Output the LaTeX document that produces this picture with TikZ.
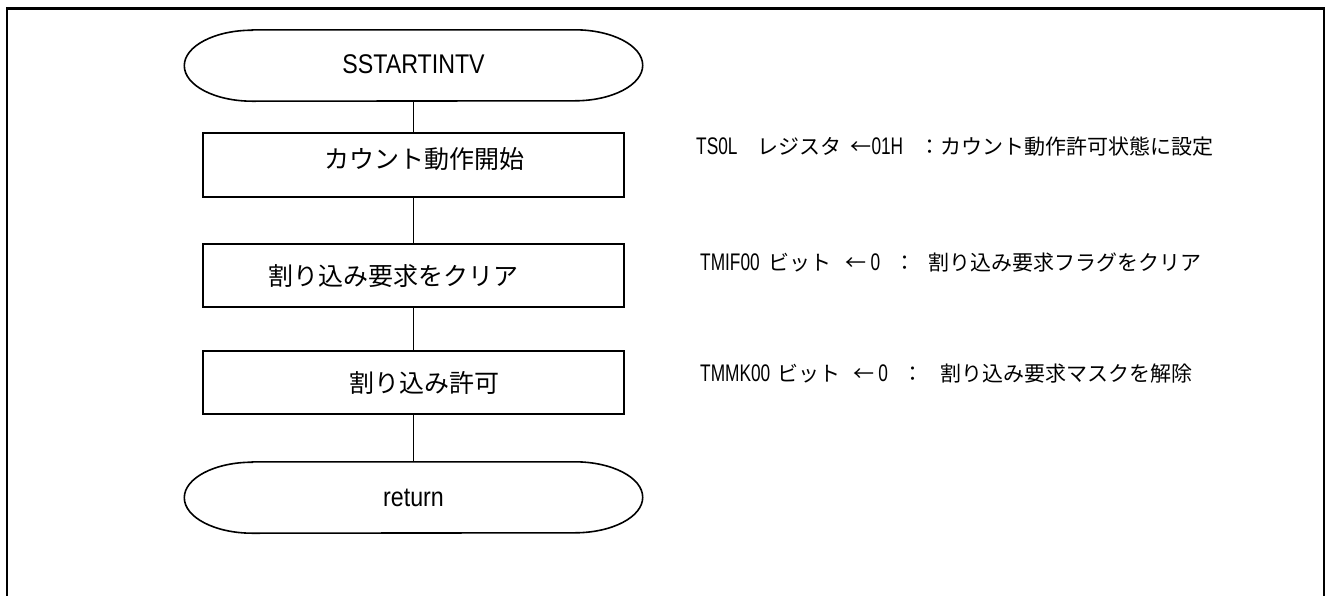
\documentclass[tikz,border=0pt]{standalone}
\usepackage{fontspec}
\setmainfont{Liberation Sans}
\newfontfamily\jp{Noto Sans CJK JP}
\newfontfamily\notefont[FakeStretch=0.72]{Liberation Sans}
\newfontfamily\termfont[FakeStretch=0.86]{Liberation Sans}
\newcommand{\jt}[1]{{\jp\fontsize{21}{23}\selectfont #1}}
\newcommand{\termpath}[1]{\draw[line width=1.6pt] ([xshift=68pt]#1.north west) -- ([xshift=-68pt]#1.north east) arc[start angle=90,end angle=-90,x radius=68pt,y radius=35.5pt] -- ([xshift=68pt]#1.south west) arc[start angle=270,end angle=90,x radius=68pt,y radius=35.5pt] -- cycle;}
\tikzset{
 proc/.style={draw, line width=1.6pt, minimum width=421pt, minimum height=63.5pt, inner sep=0pt, text height=19pt, text depth=0pt, font=\jp\fontsize{25}{27}\selectfont},
 term/.style={minimum width=458pt, minimum height=71pt, inner sep=0pt, font=\termfont\fontsize{27}{29}\selectfont},
 conn/.style={line width=1.5pt},
 note/.style={anchor=base west, inner sep=0pt, font=\notefont\fontsize{24}{26}\selectfont},
 frame/.style={line width=2.2pt}
}
\begin{document}
\begin{tikzpicture}[x=1pt,y=-1pt]
\useasboundingbox (0,0) rectangle (1325,595);
\draw[frame] (7,596) -- (7,8.5) -- (1323.9,8.5) -- (1323.9,596);
% flow nodes
\node[term] (s) at (413.5,65.5) {\raisebox{2pt}{SSTARTINTV}};
\node[proc] (b1) at (413.5,165) {\hspace*{22pt}\raisebox{6pt}{カウント動作開始}};
\node[proc] (b2) at (413.5,275.5) {割り込み要求をクリア\hspace*{40pt}};
\node[proc] (b3) at (413.5,382.5) {\hspace*{22pt}割り込み許可};
\node[term] (r) at (413.5,497.5) {return};
\termpath{s}
\termpath{r}
% connectors
\draw[conn] (s.south) -- (b1.north);
\draw[conn] (b1.south) -- (b2.north);
\draw[conn] (b2.south) -- (b3.north);
\draw[conn] (b3.south) -- (r.north);
% notes
\node[note] (n1) at (696,154) {TS0L\hspace{20pt}\jt{レジスタ}\hspace{9pt}\jt{←}01H\hspace{16.5pt}\jt{：カウント動作許可状態に設定}};
\node[note] (n2) at (700,270) {TMIF00\hspace{9pt}\jt{ビット}\hspace{14pt}\jt{←}\hspace{4pt}0\hspace{14pt}\jt{：}\hspace{13.5pt}\jt{割り込み要求フラグをクリア}};
\node[note] (n3) at (700,381) {TMMK00\hspace{7pt}\jt{ビット}\hspace{13pt}\jt{←}\hspace{4pt}0\hspace{14.5pt}\jt{：}\hspace{17pt}\jt{割り込み要求マスクを解除}};
\end{tikzpicture}
\end{document}
